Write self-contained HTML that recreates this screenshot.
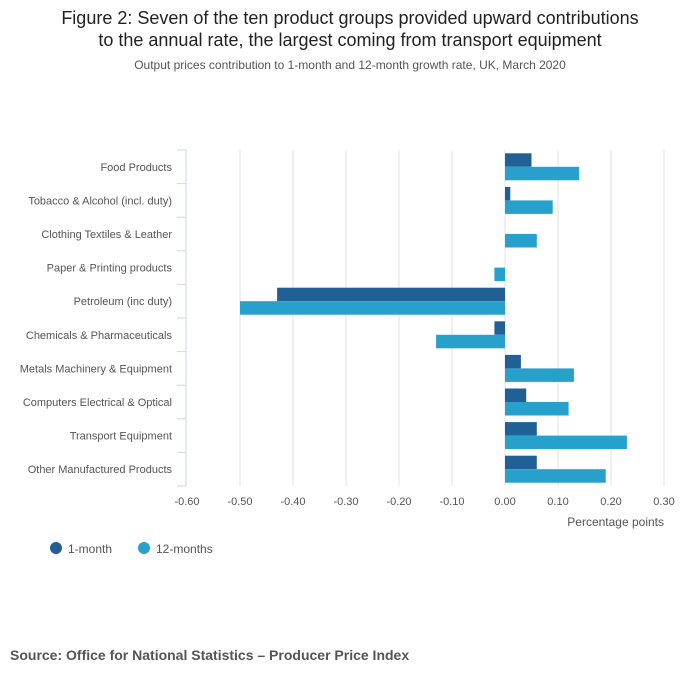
<!DOCTYPE html>
<html><head><meta charset="utf-8"><style>
body{margin:0;background:#fff;font-family:"Liberation Sans","DejaVu Sans",sans-serif;}
svg text{font-family:"Liberation Sans","DejaVu Sans",sans-serif;}
</style></head><body>
<svg width="700" height="682" xmlns="http://www.w3.org/2000/svg" id="chart">
<text x="350" y="24" text-anchor="middle" font-size="18" fill="#222">Figure 2: Seven of the ten product groups provided upward contributions</text>
<text x="350" y="46" text-anchor="middle" font-size="18" fill="#222">to the annual rate, the largest coming from transport equipment</text>
<text x="350" y="69" text-anchor="middle" font-size="12" fill="#555">Output prices contribution to 1-month and 12-month growth rate, UK, March 2020</text>
<g id="grid"></g><g id="bars"></g><g id="labels"></g>
<text x="664" y="526" text-anchor="end" font-size="12" fill="#555">Percentage points</text>
<g>
<circle cx="56" cy="548" r="6" fill="#206095"/>
<text x="68" y="553" font-size="12" fill="#555">1-month</text>
<circle cx="144" cy="548" r="6" fill="#27a0cc"/>
<text x="156" y="553" font-size="12" fill="#555">12-months</text>
</g>
<text x="10" y="660" font-size="14" font-weight="bold" fill="#555">Source: Office for National Statistics – Producer Price Index</text>
</svg>
<script>
const categories=["Food Products","Tobacco & Alcohol (incl. duty)","Clothing Textiles & Leather","Paper & Printing products","Petroleum (inc duty)","Chemicals & Pharmaceuticals","Metals Machinery & Equipment","Computers Electrical & Optical","Transport Equipment","Other Manufactured Products"];
const oneMonth=[0.05,0.01,0,0,-0.43,-0.02,0.03,0.04,0.06,0.06];
const twelveMonths=[0.14,0.09,0.06,-0.02,-0.50,-0.13,0.13,0.12,0.23,0.19];
const ticks=[-0.6,-0.5,-0.4,-0.3,-0.2,-0.1,0,0.1,0.2,0.3];
const tickLabels=["-0.60","-0.50","-0.40","-0.30","-0.20","-0.10","0.00","0.10","0.20","0.30"];
const NS="http://www.w3.org/2000/svg";
const x0=187,x1=664,vmin=-0.6,vmax=0.3,plotTop=150,rowH=33.6;
function xs(v){return x0+(v-vmin)/(vmax-vmin)*(x1-x0);}
function mk(t,a,p){const e=document.createElementNS(NS,t);for(const k in a)e.setAttribute(k,a[k]);p.appendChild(e);return e;}
const grid=document.getElementById('grid'),bars=document.getElementById('bars'),labels=document.getElementById('labels');
ticks.forEach((t,i)=>{
 if(i>0){const l=mk('line',{x1:xs(t),x2:xs(t),y1:plotTop,y2:plotTop+rowH*categories.length,stroke:'#e2e2e2','stroke-width':1},grid);
 
 }
 const tx=mk('text',{x:xs(t),y:505,'text-anchor':'middle','font-size':11,fill:'#555'},labels);
 tx.textContent=tickLabels[i];
 
 
});
const ax=mk('line',{x1:186,x2:186,y1:plotTop,y2:plotTop+rowH*categories.length,stroke:'#ccd6eb'},grid);


for(let i=0;i<=categories.length;i++){
 const tk=mk('line',{x1:177,x2:186,y1:plotTop+rowH*i,y2:plotTop+rowH*i,stroke:'#ccd6eb'},grid);
 
 
}
categories.forEach((c,i)=>{
 const yc=plotTop+rowH*i+rowH/2;
 const t=mk('text',{x:172,y:yc+4,'text-anchor':'end','font-size':11,fill:'#555'},labels);
 t.textContent=c;
 
 
 [[oneMonth[i],'#206095',-13.5,'bar-1-month'],[twelveMonths[i],'#27a0cc',0,'bar-12-months']].forEach(([v,col,dy,nm])=>{
  const a=xs(Math.min(0,v)),b=xs(Math.max(0,v));
  const r=mk('rect',{x:a,y:yc+dy,width:b-a,height:13.5,fill:col},bars);
  
  
 });
});
</script>
</body></html>
